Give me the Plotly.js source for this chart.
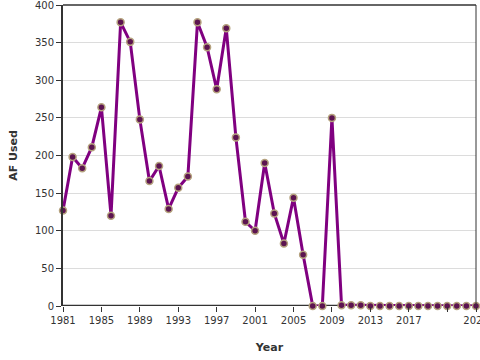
<!DOCTYPE html>
<html><head><meta charset="utf-8">
<script src="https://cdn.plot.ly/plotly-3.0.1.min.js"></script>
<style>html,body{margin:0;padding:0;background:#fff}#c{width:480px;height:360px}</style>
</head><body><div id="c"></div>
<script>
const years = [1981,1982,1983,1984,1985,1986,1987,1988,1989,1990,1991,1992,1993,1994,1995,1996,1997,1998,1999,2000,2001,2002,2003,2004,2005,2006,2007,2008,2009,2010,2011,2012,2013,2014,2015,2016,2017,2018,2019,2020,2021,2022,2023,2024];
const afUsed = [127,198,183,211,264,120,377,351,248,166,186,129,157,172,377,344,288,369,224,112,100,190,123,83,144,68,0,0,250,1,1,1,0,0,0,0,0,0,0,0,0,0,0,0];
const tickVals = [1981,1985,1989,1993,1997,2001,2005,2009,2013,2017,2021,2024];
const tickText = ['1981','1985','1989','1993','1997','2001','2005','2009','2013','2017','','2024'];
const yTicks = [0,50,100,150,200,250,300,350,400];

const trace = {
  x: years, y: afUsed, type: 'scatter', mode: 'lines+markers',
  line: {color: '#800080', width: 3},
  marker: {size: 7, color: '#5c1450', line: {color: '#b5a27e', width: 1.5}},
  cliponaxis: false, hoverinfo: 'none'
};
const layout = {
  width: 480, height: 360,
  margin: {l: 63, r: 4, t: 5, b: 54},
  paper_bgcolor: '#fff', plot_bgcolor: '#fff',
  showlegend: false,
  font: {family: 'DejaVu Sans', size: 10, color: '#333'},
  xaxis: {
    range: [1981, 2024], tickvals: tickVals, ticktext: tickText,
    ticks: 'outside', ticklen: 5, tickcolor: '#333', tickwidth: 1,
    ticklabeloverflow: 'allow',
    showgrid: false, zeroline: false, showline: false,
    title: {text: '<b>Year</b>', font: {size: 11, color: '#333'}, standoff: 18}
  },
  yaxis: {
    range: [0, 400.001], tickvals: yTicks,
    ticks: 'outside', ticklen: 5, tickcolor: '#333', tickwidth: 1,
    ticklabeloverflow: 'allow',
    showgrid: true, gridcolor: '#dcdcdc', gridwidth: 1,
    zeroline: false, showline: true, linecolor: '#333', linewidth: 2,
    title: {text: '<b>AF Used</b>', font: {size: 11, color: '#333'}, standoff: 15}
  },
  shapes: [
    {type: 'line', xref: 'paper', yref: 'paper', x0: 0, x1: 1, y0: 1, y1: 1, line: {color: '#333', width: 1.5}},
    {type: 'line', xref: 'paper', yref: 'paper', x0: 1, x1: 1, y0: 0, y1: 1, line: {color: '#333', width: 1}},
    {type: 'line', xref: 'paper', yref: 'y', x0: 0, x1: 1, y0: 0, y1: 0, line: {color: '#333', width: 2.5}, layer: 'below'}
  ]
};
Plotly.newPlot('c', [trace], layout, {staticPlot: true, displayModeBar: false});
</script></body></html>
